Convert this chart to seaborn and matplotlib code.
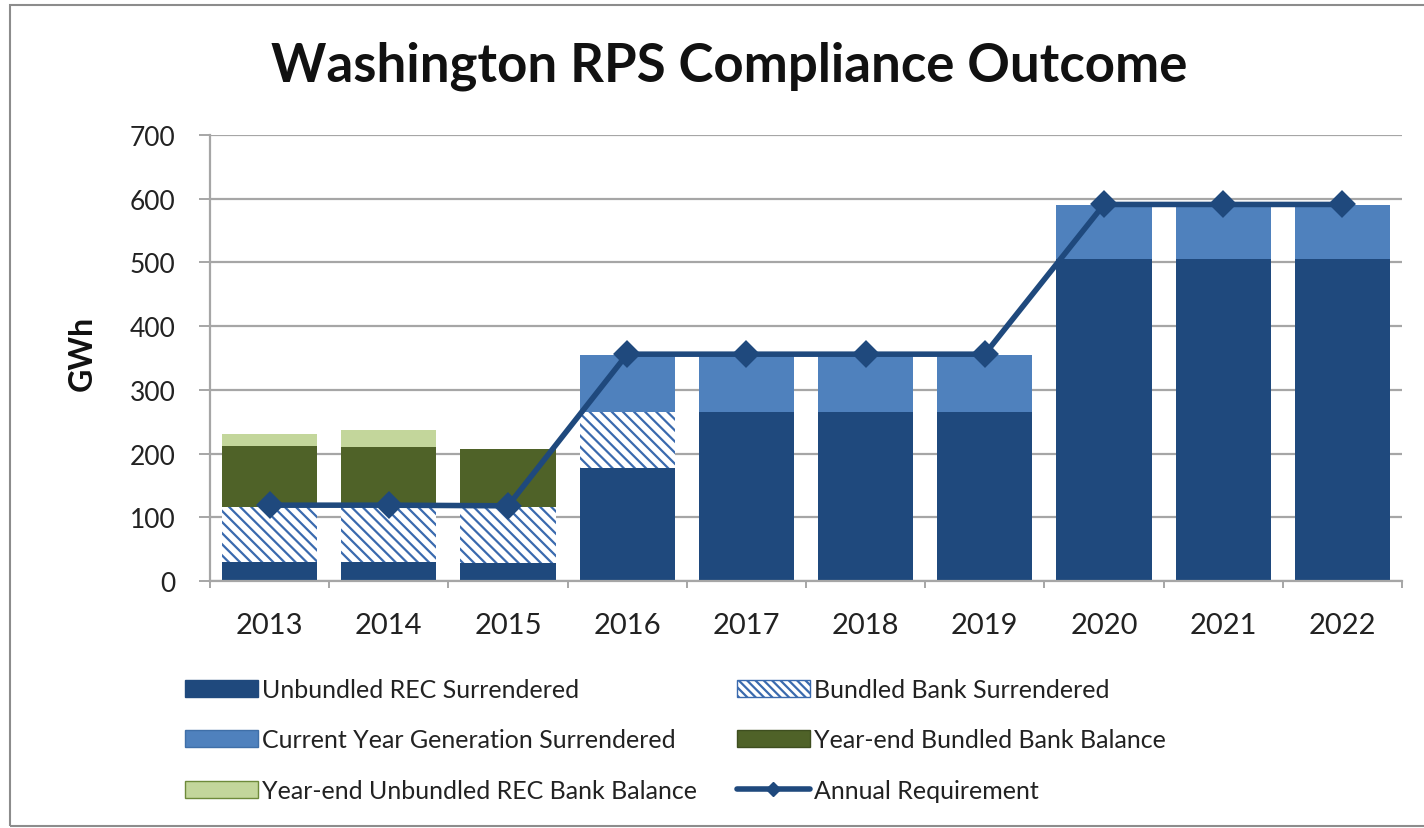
import numpy as np
import pandas as pd
import seaborn as sns
import matplotlib
matplotlib.use("Agg")
import matplotlib.pyplot as plt
from matplotlib.patches import Patch, Rectangle
from matplotlib.lines import Line2D

years = ["2013", "2014", "2015", "2016", "2017", "2018", "2019", "2020", "2021", "2022"]
unbundled_rec = [30, 30, 28, 177, 265, 265, 265, 505, 505, 505]
bundled_bank = [86, 86, 88, 88, 0, 0, 0, 0, 0, 0]
current_gen = [0, 0, 0, 89, 89, 89, 89, 85, 85, 85]
yearend_bundled = [96, 94, 91, 0, 0, 0, 0, 0, 0, 0]
yearend_unbundled = [19, 27, 0, 0, 0, 0, 0, 0, 0, 0]
requirement = [119, 119, 118, 356, 356, 356, 356, 591, 591, 591]

labels = ["Unbundled REC Surrendered", "Bundled Bank Surrendered",
          "Current Year Generation Surrendered", "Year-end Bundled Bank Balance",
          "Year-end Unbundled REC Bank Balance", "Annual Requirement"]

NAVY = "#1F497D"
HATCH_BLUE = "#3A6AAE"
LIGHT_BLUE = "#4F81BD"
DARK_GREEN = "#4F6228"
LIGHT_GREEN = "#C3D69B"
GRID = "#A6A6A6"

sns.set_style("white")
plt.rcParams["font.family"] = ["Lato", "DejaVu Sans"]
plt.rcParams["hatch.linewidth"] = 1.6
plt.rcParams["hatch.color"] = HATCH_BLUE

df = pd.DataFrame({"year": years, "requirement": requirement})
df["c1"] = np.array(unbundled_rec)
df["c2"] = df["c1"] + np.array(bundled_bank)
df["c3"] = df["c2"] + np.array(current_gen)
df["c4"] = df["c3"] + np.array(yearend_bundled)
df["c5"] = df["c4"] + np.array(yearend_unbundled)

fig = plt.figure(figsize=(14.24, 8.29), dpi=100)
ax = fig.add_axes([210 / 1424, 1 - 582 / 829, 1192 / 1424, 446 / 829])

# stacked bars drawn back to front from the cumulative totals
layers = [("c5", LIGHT_GREEN, None), ("c4", DARK_GREEN, None), ("c3", LIGHT_BLUE, None),
          ("c2", "white", "\\\\\\"), ("c1", NAVY, None)]
for col, colour, hatch in layers:
    sns.barplot(data=df, x="year", y=col, color=colour, saturation=1, width=0.8,
                errorbar=None, ax=ax, linewidth=0,
                edgecolor=HATCH_BLUE if hatch else colour, hatch=hatch)

sns.pointplot(data=df, x="year", y="requirement", color=NAVY, markers="D",
              linestyles="-", errorbar=None, ax=ax, linewidth=4, markersize=11)

ax.set_xlim(-0.5, 9.5)
ax.set_ylim(0, 700)
ax.set_yticks(range(0, 701, 100))
ax.set_xticks(range(len(years)))
ax.set_xticklabels(years)
ax.set_xticks(np.arange(-0.5, 10, 1), minor=True)
ax.set_xlabel("")
ax.set_ylabel("")
ax.set_axisbelow(True)
ax.yaxis.grid(True, color=GRID, linewidth=1.6)
ax.xaxis.grid(False)

for s in ["top", "right"]:
    ax.spines[s].set_visible(False)
for s in ["left", "bottom"]:
    ax.spines[s].set_color(GRID)
    ax.spines[s].set_linewidth(1.6)

ax.tick_params(axis="y", which="major", direction="out", length=8, width=1.4,
               color=GRID, pad=17, labelsize=19, labelcolor="#222222", left=True)
ax.tick_params(axis="x", which="major", length=0, pad=22, labelsize=21, labelcolor="#222222")
ax.tick_params(axis="x", which="minor", direction="out", length=5, width=1.4,
               color=GRID, bottom=True)

fig.text(729 / 1424, 1 - 66 / 829, "Washington RPS Compliance Outcome",
         ha="center", va="center", fontsize=38, fontweight="bold", color="#111111")
fig.text(82 / 1424, 1 - 353 / 829, "GWh", rotation=90, ha="center", va="center",
         fontsize=23, fontweight="bold", color="#111111")

handles = [
    Patch(facecolor=NAVY, edgecolor=NAVY),
    Patch(facecolor="white", edgecolor=HATCH_BLUE, hatch="\\\\\\\\"),
    Patch(facecolor=LIGHT_BLUE, edgecolor="#3F6FA8"),
    Patch(facecolor=DARK_GREEN, edgecolor="#3E4E1F"),
    Patch(facecolor=LIGHT_GREEN, edgecolor="#6E8A3A"),
    Line2D([], [], color=NAVY, linewidth=4, marker="D", markersize=7),
]

leg_kw = dict(frameon=False, fontsize=18, handlelength=2.9, handleheight=0.65,
              handletextpad=0.2, labelspacing=1.1, borderpad=0, borderaxespad=0,
              loc="upper left", labelcolor="#222222")
leg1 = fig.legend([handles[0], handles[2], handles[4]], [labels[0], labels[2], labels[4]],
                  bbox_to_anchor=(185 / 1424, 1 - 679 / 829), **leg_kw)
leg2 = fig.legend([handles[1], handles[3], handles[5]], [labels[1], labels[3], labels[5]],
                  bbox_to_anchor=(737 / 1424, 1 - 679 / 829), **leg_kw)

fig.add_artist(Rectangle((10 / 1424, 1 - 827 / 829), 1.2, (827 - 6) / 829,
                         transform=fig.transFigure, fill=False, edgecolor="#8C8C8C",
                         linewidth=1.5))

fig.savefig("out.png", dpi=100)
